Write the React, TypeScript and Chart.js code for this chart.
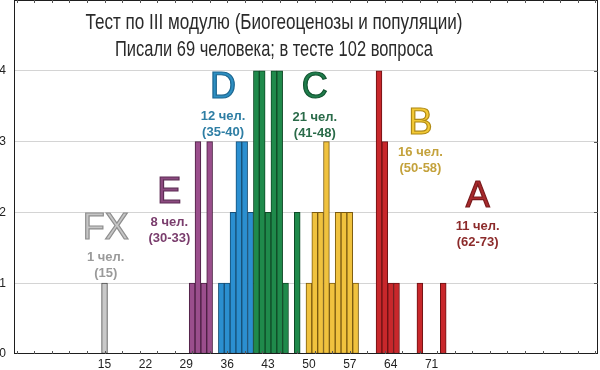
import React, { useEffect, useRef } from "react";
import { Chart, registerables } from "chart.js";

Chart.register(...registerables);

// ---------- data ----------
const titleLines = [
  "Тест по III модулю (Биогеоценозы и популяции)",
  "Писали 69 человека; в тесте 102 вопроса",
];

const gradeNames = ["FX", "E", "D", "C", "B", "A"];
const gradePeople = [1, 8, 12, 21, 16, 11];
const gradeRanges = ["15", "30-33", "35-40", "41-48", "50-58", "62-73"];

const scoresFX = [15];
const countsFX = [1];
const scoresE = [30, 31, 32, 33];
const countsE = [1, 3, 1, 3];
const scoresD = [35, 36, 37, 38, 39, 40];
const countsD = [1, 1, 2, 3, 3, 2];
const scoresC = [41, 42, 43, 44, 45, 46, 48];
const countsC = [4, 4, 2, 4, 4, 1, 2];
const scoresB = [50, 51, 52, 53, 54, 55, 56, 57, 58];
const countsB = [1, 2, 2, 3, 1, 2, 2, 2, 1];
const scoresA = [62, 63, 64, 65, 69, 73];
const countsA = [4, 3, 1, 1, 1, 1];

const xTickLabels = [15, 22, 29, 36, 43, 50, 57, 64, 71];
const yTickValues = [0, 1, 2, 3, 4];

// annotation anchors (data units): letter centre
const labelAnchorX = [15.2, 26.1, 35.3, 51.0, 69.1, 78.9];
const labelAnchorY = [1.77, 2.27, 3.76, 3.75, 3.25, 2.21];

// ---------- styles ----------
const FONT = '"Liberation Sans", Arial, Helvetica, sans-serif';
const barFills = ["#c9c9c9", "#9a4e8c", "#2b8fd0", "#1f8a4b", "#f0c23e", "#c8272b"];
const barBorders = ["#4a4a4a", "#4a1f42", "#174f75", "#0f4a27", "#7a5a10", "#6a1214"];
const letterFills = ["#c6c6c6", "#8c4a80", "#2d8fc2", "#1f7e4c", "#f3c935", "#a82a2c"];
const letterStrokes = ["#8e8e8e", "#5e2c55", "#1d6690", "#135532", "#b08a14", "#7a1a1c"];
const subColors = ["#9a9a9a", "#7a3d6d", "#2e7ea4", "#2a6b49", "#c4a23c", "#8c2b2b"];

const seriesScores = [scoresFX, scoresE, scoresD, scoresC, scoresB, scoresA];
const seriesCounts = [countsFX, countsE, countsD, countsC, countsB, countsA];

const xMinorTicks: number[] = [];
for (let v = 0; v <= 99; v += 3) xMinorTicks.push(v);
const xAllTicks = Array.from(new Set([...xMinorTicks, ...xTickLabels])).sort((a, b) => a - b);

// flatten into one dataset (colour per grade)
const barPoints: { x: number; y: number }[] = [];
const barFillList: string[] = [];
const barBorderList: string[] = [];
seriesScores.forEach((sc, i) => {
  sc.forEach((v, j) => {
    barPoints.push({ x: v, y: seriesCounts[i][j] });
    barFillList.push(barFills[i]);
    barBorderList.push(barBorders[i]);
  });
});

const decorPlugin = {
  id: "decor",
  afterDatasetsDraw(chart: any) {
    const { ctx, chartArea, scales } = chart;
    const xs = scales.x;
    const ys = scales.y;
    const { left, right, top, bottom } = chartArea;
    ctx.save();

    // frame
    ctx.strokeStyle = "#1e1e1e";
    ctx.lineWidth = 1;
    ctx.strokeRect(left + 0.5, top + 0.5, right - left - 1, bottom - top - 1);

    // minor tick marks (inward)
    ctx.strokeStyle = "#555";
    ctx.beginPath();
    xMinorTicks.forEach((v) => {
      const px = Math.round(xs.getPixelForValue(v)) + 0.5;
      ctx.moveTo(px, bottom);
      ctx.lineTo(px, bottom - 3);
      ctx.moveTo(px, top);
      ctx.lineTo(px, top + 3);
    });
    yTickValues.forEach((v) => {
      if (v === 0) return;
      const py = Math.round(ys.getPixelForValue(v)) + 0.5;
      ctx.moveTo(right, py);
      ctx.lineTo(right - 4, py);
    });
    ctx.stroke();

    // title
    const titleCx = 274;
    const titleBase = [29, 56];
    const titleWidths = [377, 318];
    ctx.fillStyle = "#2a2a2a";
    ctx.font = `22px ${FONT}`;
    ctx.textAlign = "center";
    ctx.textBaseline = "alphabetic";
    titleLines.forEach((t, i) => {
      const w = ctx.measureText(t).width;
      ctx.save();
      ctx.translate(titleCx, titleBase[i]);
      ctx.scale(titleWidths[i] / w, 1);
      ctx.fillText(t, 0, 0);
      ctx.restore();
    });

    // grade labels
    ctx.textBaseline = "middle";
    gradeNames.forEach((g, i) => {
      const px = xs.getPixelForValue(labelAnchorX[i]);
      const py = ys.getPixelForValue(labelAnchorY[i]);
      ctx.font = `36px ${FONT}`;
      ctx.fillStyle = letterFills[i];
      ctx.fillText(g, px, py);
      ctx.lineWidth = 1.2;
      ctx.strokeStyle = letterStrokes[i];
      ctx.strokeText(g, px, py);
      ctx.font = `bold 13px ${FONT}`;
      ctx.fillStyle = subColors[i];
      ctx.fillText(`${gradePeople[i]} чел.`, px, py + 29);
      ctx.fillText(`(${gradeRanges[i]})`, px, py + 45);
    });
    ctx.restore();
  },
};

export default function App() {
  const ref = useRef<HTMLCanvasElement | null>(null);

  useEffect(() => {
    document.body.style.margin = "0";
    const canvas = ref.current;
    if (!canvas) return;
    const chart = new Chart(canvas, {
      type: "bar",
      data: {
        datasets: [
          {
            label: "Баллы",
            data: barPoints,
            backgroundColor: barFillList,
            borderColor: barBorderList,
            borderWidth: 1,
            borderSkipped: false,
            barPercentage: 1,
            categoryPercentage: 1,
          },
        ],
      },
      options: {
        responsive: false,
        animation: false,
        datasets: { bar: { barPercentage: 1, categoryPercentage: 1 } },
        layout: { padding: { top: 0, right: 2, left: 0, bottom: 0 } },
        plugins: {
          legend: { display: false },
          tooltip: { enabled: false },
          title: { display: false },
        },
        scales: {
          x: {
            type: "linear",
            offset: false,
            min: -0.5,
            max: 99.5,
            afterBuildTicks: (s: any) => {
              s.ticks = xAllTicks.map((v) => ({ value: v }));
            },
            ticks: {
              autoSkip: false,
              maxRotation: 0,
              minRotation: 0,
              padding: 3,
              color: "#222",
              font: { size: 12, family: FONT },
              callback: (v: any) => (xTickLabels.includes(Number(v)) ? String(v) : ""),
            },
            grid: { display: false, drawTicks: false, offset: false },
            border: { display: false },
            afterFit: (s: any) => {
              s.height = 16;
              s.paddingLeft = 0;
              s.paddingRight = 0;
            },
          },
          y: {
            min: 0,
            max: 5,
            afterBuildTicks: (s: any) => {
              s.ticks = yTickValues.map((v) => ({ value: v }));
            },
            ticks: {
              padding: 8,
              color: "#222",
              font: { size: 12, family: FONT },
            },
            grid: {
              drawTicks: false,
              color: (c: any) => (c.tick && c.tick.value === 0 ? "rgba(0,0,0,0)" : "#d4d4d4"),
              lineWidth: 1,
            },
            border: { display: false },
            afterFit: (s: any) => {
              s.width = 14;
              s.paddingTop = 0;
              s.paddingBottom = 0;
            },
          },
        },
      } as any,
      plugins: [decorPlugin],
    });
    return () => chart.destroy();
  }, []);

  return (
    <div style={{ width: 600, height: 370 }}>
      <canvas ref={ref} width={600} height={370} style={{ display: "block" }} />
    </div>
  );
}
